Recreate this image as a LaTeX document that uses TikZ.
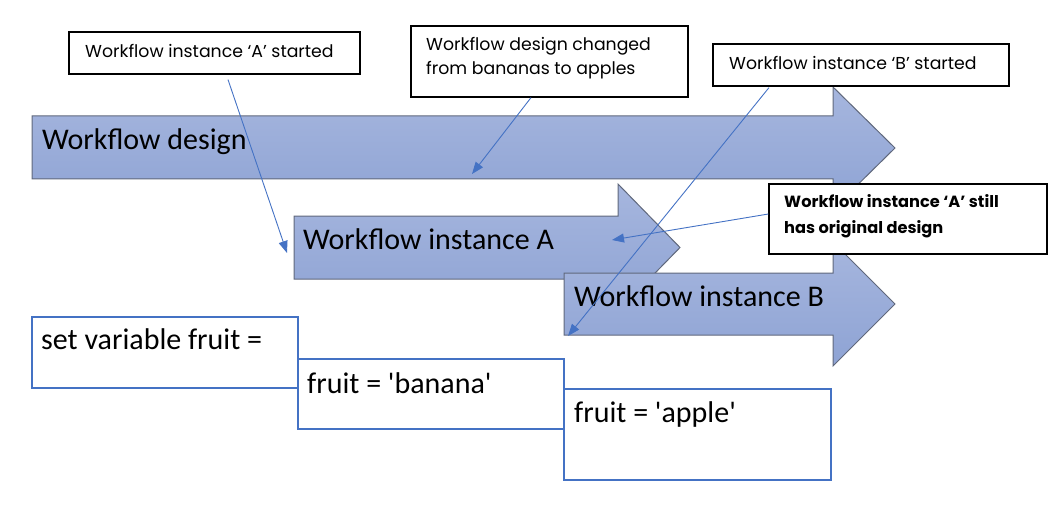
\documentclass[tikz,border=0pt]{standalone}
\usepackage{fontspec}
\setmainfont{Carlito}
\newfontfamily\gothic{Poppins}
\usetikzlibrary{arrows.meta}
\definecolor{arrowtop}{RGB}{166,182,222}
\definecolor{arrowbot}{RGB}{142,163,212}
\definecolor{arrowline}{RGB}{96,104,124}
\definecolor{linkblue}{RGB}{68,114,196}
\tikzset{
    bigarrow/.style={top color=arrowtop, bottom color=arrowbot, draw=arrowline, line width=1pt},
    callout/.style={draw=black, fill=white, line width=1.2pt},
    fruitbox/.style={draw=linkblue, fill=white, line width=1.2pt},
    link/.style={draw=linkblue, line width=0.9pt, -{Triangle[length=12pt,width=9pt]}},
    bigtext/.style={anchor=base west, font=\fontsize{30}{32}\selectfont},
    notetext/.style={anchor=base west, font=\gothic\fontsize{17.3}{24}\selectfont},
    boldnote/.style={anchor=base west, font=\gothic\bfseries\fontsize{16.2}{25}\selectfont}
}
\begin{document}
\begin{tikzpicture}[x=1pt,y=1pt]
                \tikzstyle{every node}+=[inner sep=0pt]
                \useasboundingbox (0,0) rectangle (1062,-505);
                \shade [bigarrow] (32,-116) -- (833,-116) -- (833,-87) -- (895,-148) -- (833,-209) -- (833,-179) -- (32,-179) -- cycle;
                \shade [bigarrow] (294,-216) -- (618,-216) -- (618,-184) -- (680,-247.5) -- (618,-311) -- (618,-279) -- (294,-279) -- cycle;
                \shade [bigarrow] (564,-273) -- (833,-273) -- (833,-242) -- (895,-304) -- (833,-366) -- (833,-335) -- (564,-335) -- cycle;
                \node [bigtext] (design) at (42,-150) {Workflow design};
                \node [bigtext] (instA) at (303,-249) {Workflow instance A};
                \node [bigtext] (instB) at (574,-306) {Workflow instance B};
                \coordinate (tipA) at (287,-253);
                \coordinate (tipChange) at (472,-174);
                \coordinate (tipB) at (568,-336);
                \coordinate (tipStill) at (612,-240);
                \node [callout, minimum width=291pt, minimum height=42pt] (startA) at (214.5,-53) {};
                \node [notetext] (startAtext) at (85,-57.3) {Workflow instance ‘A’ started};
                \node [callout, minimum width=277pt, minimum height=71pt] (change) at (549.5,-61.5) {};
                % base of a two line node is the last line
                \node [notetext, align=left] (changetext) at (426,-75) {Workflow design changed\\from bananas to apples};
                \node [callout, minimum width=296pt, minimum height=42pt] (startB) at (861,-65) {};
                \node [notetext] (startBtext) at (729,-70) {Workflow instance ‘B’ started};
                \node [callout, minimum width=278pt, minimum height=70pt] (still) at (908,-219) {};
                \node [boldnote, align=left] (stilltext) at (784,-233) {Workflow instance ‘A’ still\\has original design};
                \node [fruitbox, minimum width=266pt, minimum height=71pt] (setvar) at (165,-352.5) {};
                \node [bigtext] (setvartext) at (41,-349) {set variable fruit =};
                \node [fruitbox, minimum width=266pt, minimum height=70pt] (banana) at (431,-394) {};
                \node [bigtext] (bananatext) at (307,-393) {fruit = \textquotesingle banana\textquotesingle};
                \node [fruitbox, minimum width=267pt, minimum height=91pt] (apple) at (697.5,-434.5) {};
                \node [bigtext] (appletext) at (574,-422) {fruit = \textquotesingle apple\textquotesingle};
                \draw [link] ([xshift=13.5pt,yshift=-5pt]startA.south) -- (tipA);
                \draw [link] ([xshift=-18.5pt]change.south) -- (tipChange);
                \draw [link] ([xshift=-92pt,yshift=-1pt]startB.south) -- (tipB);
                \draw [link] ([yshift=5pt]still.west) -- (tipStill);
            \end{tikzpicture}
\end{document}
